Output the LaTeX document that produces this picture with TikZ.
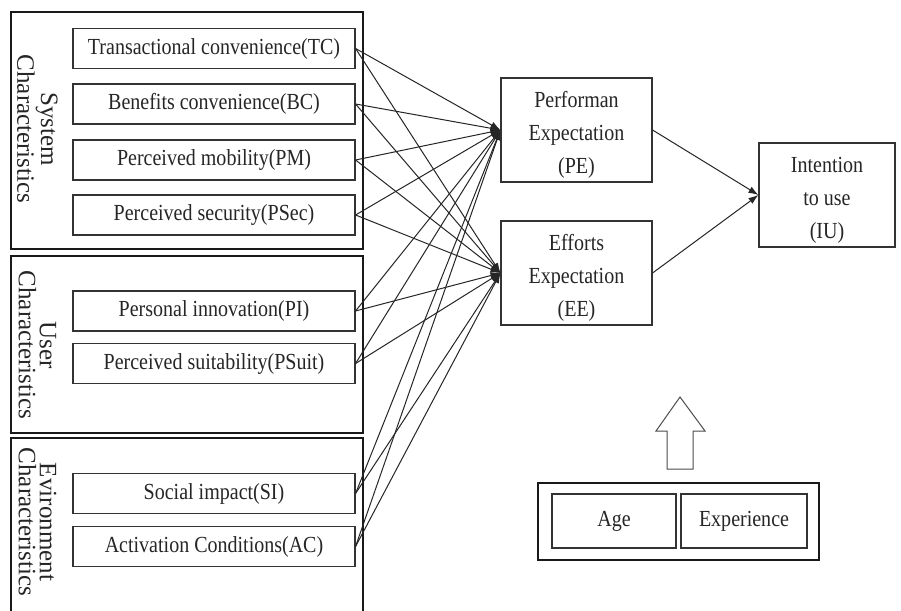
\documentclass[tikz,border=0pt]{standalone}
\usepackage{fontspec}
\setmainfont{Liberation Serif}[FakeStretch=0.87]
\newfontfamily\rotfont{Liberation Serif}
\usetikzlibrary{arrows.meta}
\newcommand{\lowtext}[2]{\parbox{#1}{\vspace*{10pt}\centering #2}}
\begin{document}
\begin{tikzpicture}[x=1pt,y=-1pt,
  txt/.style={font=\fontsize{23}{33}\selectfont, text=black!85},
  inbox/.style={txt, draw=black!80, line width=1.1pt, inner sep=0pt, minimum width=282pt, minimum height=40pt},
  frame/.style={draw=black!90, line width=2.6pt, inner sep=0pt},
  grouplabel/.style={font=\rotfont\fontsize{25}{21}\selectfont, text=black!85, rotate=-90, align=center, inner sep=0pt},
  bigbox/.style={txt, draw=black!80, line width=1.1pt, inner sep=0pt, align=center, minimum height=104pt},
  conn/.style={draw=black!85, line width=1pt, -{Latex[length=10pt,width=7pt]}},
  blockarrow/.style={draw=black!70, line width=1pt, fill=white}
]
\clip (0,0) rectangle (901,610);
\fill[white] (0,0) rectangle (901,610);

% group frames
\node[frame, minimum width=352pt, minimum height=237pt] (g1) at (187,130.5) {};
\node[frame, minimum width=352pt, minimum height=177pt] (g2) at (187,344.5) {};
\node[frame, minimum width=352pt, minimum height=204pt] (g3) at (187,540) {};

% group labels
\node[grouplabel] (l1) at (37.5,129) {System\\Characteristics};
\node[grouplabel] (l2) at (37.5,345) {User\\Characteristics};
\node[grouplabel] (l3) at (37.5,522) {Evironment\\Characteristics};

% left boxes
\node[inbox] (tc) at (214,48.5) {Transactional convenience(TC)};
\node[inbox] (bc) at (214,104) {Benefits convenience(BC)};
\node[inbox] (pm) at (214,160) {Perceived mobility(PM)};
\node[inbox] (psec) at (214,215) {Perceived security(PSec)};
\node[inbox] (pi) at (214,311) {Personal innovation(PI)};
\node[inbox] (psuit) at (214,363.5) {Perceived suitability(PSuit)};
\node[inbox] (si) at (214,493.5) {Social impact(SI)};
\node[inbox] (ac) at (214,546.5) {Activation Conditions(AC)};

% middle and right boxes
\node[bigbox, minimum width=151pt] (pe) at (576.5,130) {\lowtext{140pt}{Performan\\Expectation\\(PE)}};
\node[bigbox, minimum width=151pt] (ee) at (576.5,273) {\lowtext{140pt}{Efforts\\Expectation\\(EE)}};
\node[bigbox, minimum width=136pt] (iu) at (827,195) {\lowtext{130pt}{Intention\\to use\\(IU)}};

% moderators
\node[frame, minimum width=281pt, minimum height=77pt] (mod) at (678.5,521.5) {};
\node[inbox, minimum width=124pt, minimum height=54pt] (age) at (614,521) {Age};
\node[inbox, minimum width=126pt, minimum height=54pt] (exp) at (744,521) {Experience};

% block arrow
\draw[blockarrow] (680,397) -- (705,431) -- (693,431) -- (693,469) -- (667,469) -- (667,431) -- (656,431) -- cycle;

% connectors
\foreach \s in {tc,bc,pm,psec,pi,psuit,si,ac}{
  \draw[conn] (\s.east) -- (pe.west);
  \draw[conn] (\s.east) -- (ee.west);
}
\draw[conn] (pe.east) -- (iu.west);
\draw[conn] (ee.east) -- (iu.west);
\end{tikzpicture}
\end{document}
